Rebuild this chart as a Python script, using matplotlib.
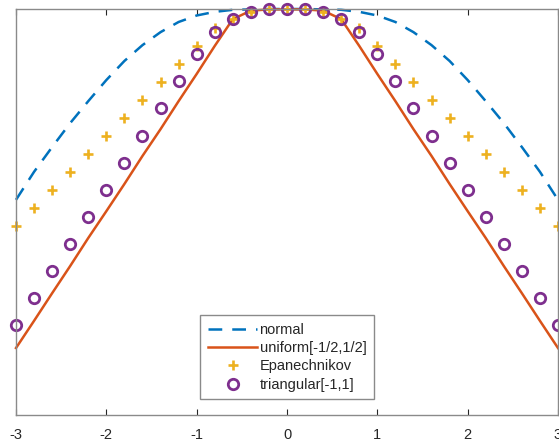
import numpy as np
import matplotlib
matplotlib.use('Agg')
import matplotlib.pyplot as plt

plt.rcParams['font.family'] = ['Liberation Sans', 'DejaVu Sans']
plt.rcParams['axes.unicode_minus'] = False

# x grid -3:0.2:3
x = np.round(np.arange(-3, 3.0001, 0.2), 1)

normal = [0.530, 0.599, 0.660, 0.719, 0.773, 0.825, 0.872, 0.911, 0.943, 0.968,
          0.984, 0.993, 0.998, 0.999, 1.000, 1.000, 1.000, 0.999, 0.998, 0.993,
          0.984, 0.968, 0.943, 0.911, 0.872, 0.825, 0.773, 0.719, 0.660, 0.599, 0.530]

uniform = [0.165, 0.232, 0.300, 0.367, 0.436, 0.502, 0.569, 0.638, 0.704, 0.773,
           0.840, 0.909, 0.975, 0.996, 0.999, 0.999, 0.999, 0.996, 0.975, 0.909,
           0.840, 0.773, 0.704, 0.638, 0.569, 0.502, 0.436, 0.367, 0.300, 0.232, 0.165]

epan = [0.466, 0.510, 0.554, 0.599, 0.643, 0.687, 0.732, 0.776, 0.820, 0.865,
        0.909, 0.953, 0.975, 0.993, 0.999, 1.000, 0.999, 0.993, 0.975, 0.953,
        0.909, 0.865, 0.820, 0.776, 0.732, 0.687, 0.643, 0.599, 0.554, 0.510, 0.466]

triang = [0.222, 0.288, 0.355, 0.421, 0.488, 0.554, 0.621, 0.687, 0.756, 0.823,
          0.889, 0.943, 0.975, 0.993, 0.999, 1.000, 0.999, 0.993, 0.975, 0.943,
          0.889, 0.823, 0.756, 0.687, 0.621, 0.554, 0.488, 0.421, 0.355, 0.288, 0.222]

labels = ['normal', 'uniform[-1/2,1/2]', 'Epanechnikov', 'triangular[-1,1]']

fig = plt.figure(figsize=(5.59, 4.40), dpi=100)
ax = fig.add_axes([16/559, 25/440, 542/559, 406/440])

ax.plot(x, normal, color='#0072BD', lw=1.8, linestyle=(0, (5.5, 4)),
        label=labels[0], clip_on=False)
ax.plot(x, uniform, color='#D95319', lw=1.8, label=labels[1], clip_on=False)
ax.plot(x, epan, linestyle='none', marker='+', ms=7.5, mew=1.9,
        color='#EDB120', label=labels[2], clip_on=False)
ax.plot(x, triang, linestyle='none', marker='o', ms=7.5, mew=2.0,
        mfc='none', mec='#7E2F8E', label=labels[3], clip_on=False)

ax.set_xlim(-3, 3)
ax.set_ylim(0, 1)
ax.set_xticks([-3, -2, -1, 0, 1, 2, 3])
ax.set_yticks([])
ax.tick_params(axis='x', direction='in', top=True, length=4, width=0.8,
               color='#262626', labelsize=10.5, labelcolor='#262626', pad=9)
for s in ax.spines.values():
    s.set_color('#8a8a8a')
    s.set_linewidth(1.0)

leg = ax.legend(loc='lower center', bbox_to_anchor=(0.5, 0.039), borderaxespad=0,
                fontsize=10.5, handlelength=3.4, handletextpad=0.15,
                labelspacing=0.3, borderpad=0.5, fancybox=False, framealpha=1)
leg.get_frame().set_edgecolor('#8a8a8a')
leg.get_frame().set_linewidth(1.0)
for t in leg.get_texts():
    t.set_color('#262626')

fig.savefig('out.png', dpi=100)
